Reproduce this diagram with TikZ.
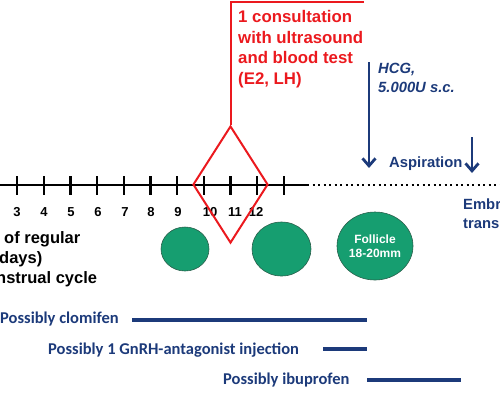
\documentclass[tikz,border=0pt]{standalone}
\usepackage{fontspec}
\setmainfont{Liberation Sans}
\newfontfamily\calibri{Carlito}
\usetikzlibrary{arrows.meta,positioning,shapes.geometric}
\definecolor{navy}{RGB}{28,58,122}
\definecolor{folgreen}{RGB}{22,158,112}
\definecolor{folrim}{RGB}{40,95,75}
\definecolor{consred}{RGB}{235,25,30}

\begin{document}
\begin{tikzpicture}[
  x=1pt, y=-1pt,
  daynum/.style={font=\fontsize{13}{15}\selectfont\bfseries, inner sep=0,
                 anchor=base},
  redtxt/.style={font=\fontsize{16.8}{20.5}\selectfont\bfseries,
                 text=consred, align=left, inner sep=0, anchor=base west},
  bluetxt/.style={font=\fontsize{14.8}{19}\selectfont\bfseries,
                  text=navy, align=left, inner sep=0, anchor=base west},
  blktxt/.style={font=\fontsize{16.5}{20}\selectfont\bfseries,
                 inner sep=0, anchor=base west},
  drug/.style={font=\fontsize{16.5}{20}\selectfont\calibri\bfseries,
               text=navy, inner sep=0, anchor=base west},
  drugbar/.style={draw=navy, line width=3.3pt},
  follicle/.style={ellipse, draw=folrim, fill=folgreen, line width=0.6pt,
                   inner sep=0},
  consult/.style={diamond, draw=consred, line width=2pt, inner sep=0,
                  minimum width=75pt, minimum height=117pt},
  tl/.style={line width=2.3pt},
  dayline/.style={line width=2.3pt},
  arr/.style={draw=navy, line width=2.8pt,
              -{Straight Barb[length=7.5pt,width=13pt]}}
]
\useasboundingbox (0,0) rectangle (500,400);
\clip (0,0) rectangle (500,400);
% Cycle days
\coordinate (tl0) at (0,185);
\coordinate (tl1) at (307,185);
\coordinate (tl2) at (500,185);
\draw[tl] (tl0) -- (tl1);
\draw[tl, dash pattern=on 2pt off 3.5pt, line width=2pt] (tl1) -- (tl2);
\foreach \x in {17,43.7,70.4,97.1,123.8,150.5,177.2,203.9,230.6,257.3,284}
  \draw[dayline] (\x,176) -- (\x,195);
\foreach \d/\x in {3/17,4/44,5/71,6/98,7/125,8/151,9/178,10/210,11/235,12/256}
  \node[daynum] (d\d) at (\x,216) {\d};
\node[blktxt] (lmp1) at (4,243) {of regular};
\node[blktxt] (lmp2) at (-1,263) {days)};
\node[blktxt] (lmp3) at (-4,283) {nstrual cycle};
% Consultation
\node[consult] (dia) at (230.5,184.5) {};
\coordinate (corner) at (364,2);
\draw[consred, line width=2pt] (dia.north) |- (corner);
\node[redtxt] (cons) at (238,84)
  {1 consultation\\with ultrasound\\and blood test\\(E2, LH)};
% Follicles
\node[follicle, minimum width=48pt, minimum height=44pt] (fol1) at (185,249) {};
\node[follicle, minimum width=59pt, minimum height=54pt] (fol2) at (281.5,249) {};
\node[follicle, minimum width=76pt, minimum height=68pt, text=white,
      font=\fontsize{12}{14}\selectfont\bfseries, align=center]
  (fol3) at (375,246) {Follicle\\18-20mm};
% HCG and aspiration
\coordinate (hcgA) at (369,62);
\coordinate (hcgB) at (369,168);
\draw[arr] (hcgA) -- (hcgB);
\node[bluetxt, font=\fontsize{14.8}{19}\selectfont\bfseries\itshape]
  (hcg) at (378,92) {HCG,\\5.000U s.c.};
\coordinate (aspA) at (472,137);
\coordinate (aspB) at (472,173);
\draw[arr] (aspA) -- (aspB);
\node[bluetxt] (asp) at (389,167) {Aspiration};
\node[bluetxt] (emb) at (463,228) {Embr\\trans};
% Medication
\node[drug] (clomi) at (0,323) {Possibly clomifen};
\node[drug] (gnrh) at (48,354) {Possibly 1 GnRH-antagonist injection};
\node[drug] (ibu) at (223,384) {Possibly ibuprofen};
\coordinate (clomiS) at (132,320); \coordinate (clomiE) at (367,320);
\coordinate (gnrhS) at (323,349);  \coordinate (gnrhE) at (367,349);
\coordinate (ibuS) at (367,380);   \coordinate (ibuE) at (461,380);
\draw[drugbar] (clomiS) -- (clomiE);
\draw[drugbar] (gnrhS) -- (gnrhE);
\draw[drugbar] (ibuS) -- (ibuE);
\end{tikzpicture}
\end{document}
